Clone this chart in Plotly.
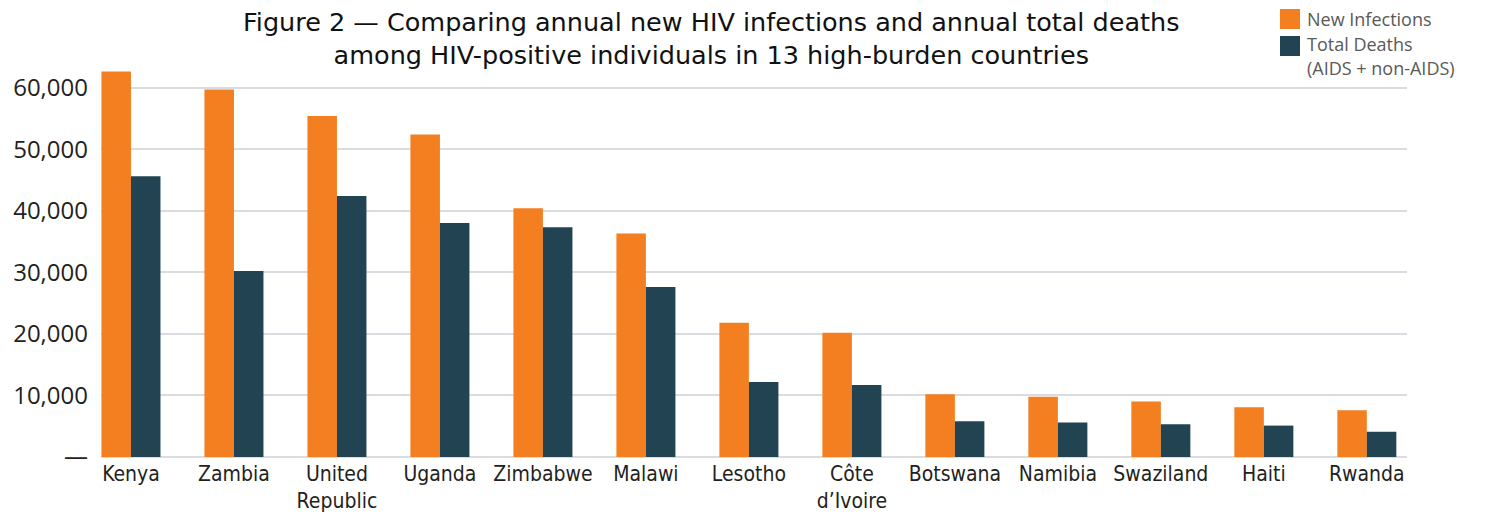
import plotly.graph_objects as go

categories = ["Kenya", "Zambia", "United<br>Republic", "Uganda", "Zimbabwe", "Malawi",
              "Lesotho", "Côte<br>d’Ivoire", "Botswana", "Namibia", "Swaziland", "Haiti", "Rwanda"]
new_infections = [62600, 59700, 55400, 52400, 40400, 36300, 21800, 20200, 10200, 9800, 9000, 8100, 7600]
total_deaths = [45600, 30200, 42400, 38000, 37300, 27600, 12200, 11700, 5800, 5600, 5300, 5100, 4100]
y_tickvals = [0, 10000, 20000, 30000, 40000, 50000, 60000]
y_ticktext = ["—", "10,000", "20,000", "30,000", "40,000", "50,000", "60,000"]
title_text = ("Figure 2 — Comparing annual new HIV infections and annual total deaths<br>"
              "among HIV-positive individuals in 13 high-burden countries")

ORANGE = "#F47F20"
DARK = "#224452"
GRID = "#D9DCE0"

W_PX, H_PX = 1492, 514
L, R, T, B = 101, 1407, 63, 457
PW, PH = R - L, B - T

def px(x):
    return (x - L) / PW

def py(y):
    return (B - y) / PH

xs = list(range(len(categories)))

fig = go.Figure()
fig.add_trace(go.Bar(x=xs, y=new_infections, name="New Infections",
                     marker=dict(color=ORANGE, line=dict(width=0)), showlegend=False))
fig.add_trace(go.Bar(x=xs, y=total_deaths, name="Total Deaths (AIDS + non-AIDS)",
                     marker=dict(color=DARK, line=dict(width=0)), showlegend=False))

cond = "Liberation Sans Narrow, DejaVu Sans Condensed, Roboto, sans-serif"

fig.update_layout(
    width=W_PX, height=H_PX,
    margin=dict(l=L, r=W_PX - R, t=T, b=H_PX - B, pad=0, autoexpand=False),
    paper_bgcolor="white", plot_bgcolor="white",
    barmode="group", bargap=0.427, bargroupgap=0,
    xaxis=dict(tickmode="array", tickvals=xs, ticktext=categories,
               range=[-0.291, 12.39], showgrid=False, zeroline=False,
               showline=False, ticks="", automargin=False, ticklabelstandoff=2,
               tickfont=dict(family=cond, size=21, color="#231F20")),
    yaxis=dict(range=[0, 64000], tickmode="array", tickvals=y_tickvals, ticktext=y_ticktext,
               showgrid=True, gridcolor=GRID, gridwidth=2, automargin=False,
               zeroline=True, zerolinecolor=GRID, zerolinewidth=2,
               showline=False, ticks="", ticklabelstandoff=12,
               tickfont=dict(family="Open Sans, sans-serif", size=24, color="#231F20")),
    font=dict(family="Open Sans, sans-serif"),
)

# title
fig.add_annotation(text=title_text, xref="paper", yref="paper",
                   x=px(711), y=py(38.5), xanchor="center", yanchor="middle",
                   align="center", showarrow=False,
                   font=dict(family="DejaVu Sans, sans-serif", size=25.5, color="#111111"))

# custom legend
legend_boxes = [(ORANGE, 9), (DARK, 36)]
for color, top in legend_boxes:
    fig.add_shape(type="rect", xref="paper", yref="paper",
                  x0=px(1280), x1=px(1300), y0=py(top + 20), y1=py(top),
                  fillcolor=color, line=dict(width=0))
legend_lines = [("New Infections", 19), ("Total Deaths", 44.5), ("(AIDS + non-AIDS)", 68)]
for text, cy in legend_lines:
    fig.add_annotation(text=text, xref="paper", yref="paper",
                       x=px(1305), y=py(cy), xanchor="left", yanchor="middle",
                       align="left", showarrow=False,
                       font=dict(family="Open Sans, sans-serif", size=18, color="#595959"))

fig.write_html("out.html")
